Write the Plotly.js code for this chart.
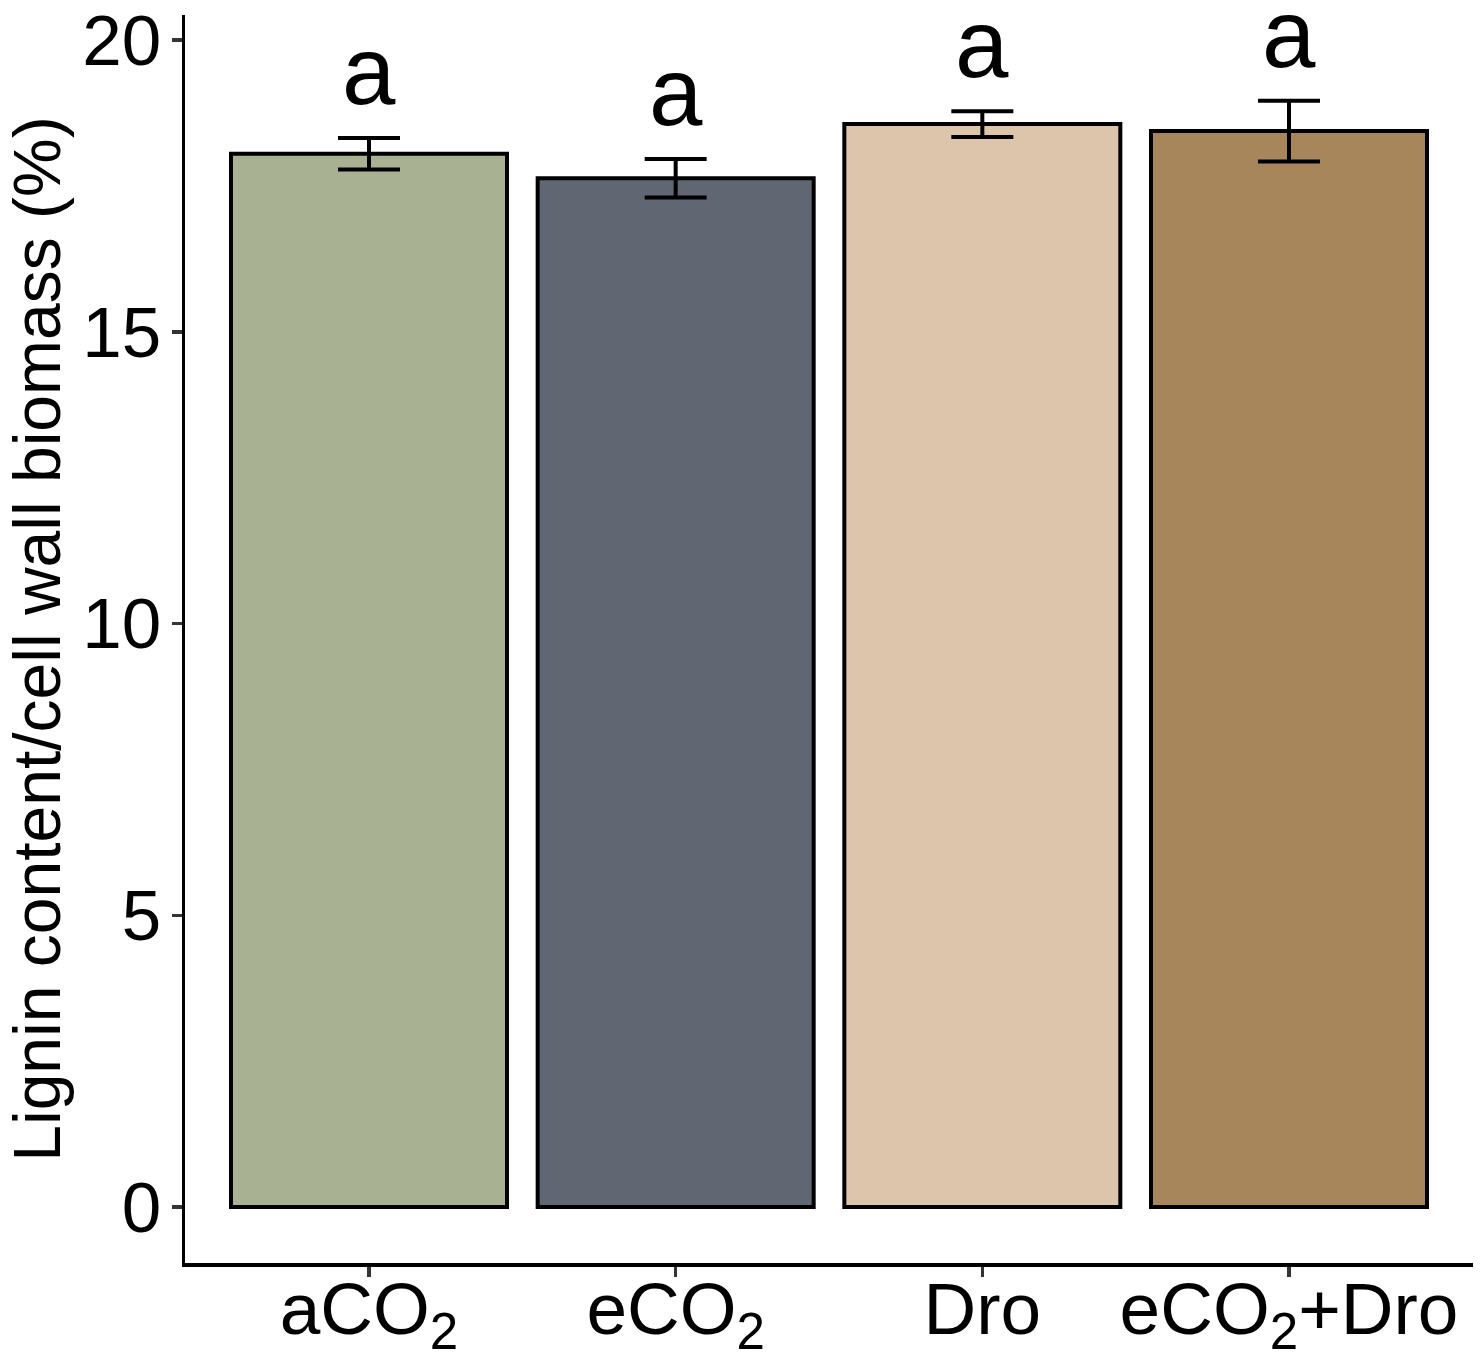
<!DOCTYPE html>
<html>
<head>
<meta charset="utf-8">
<script src="https://cdn.plot.ly/plotly-3.0.1.min.js"></script>
<style>
  html, body { margin: 0; padding: 0; background: #fff; }
  #chart { width: 1484px; height: 1364px; }
</style>
</head>
<body>
<div id="chart"></div>
<script>
// treatments and lignin values (mean ± se)
const treatments = ['aCO<sub>2</sub>', 'eCO<sub>2</sub>', 'Dro', 'eCO<sub>2</sub>+Dro'];
const ligninMean = [18.05, 17.63, 18.56, 18.44];
const ligninSe = [0.27, 0.33, 0.22, 0.52];
const letters = ['a', 'a', 'a', 'a'];
const barColors = ['#A8B293', '#606672', '#DDC5AB', '#A8865C'];

const xIdx = treatments.map((t, i) => i);

const bars = {
    x: xIdx,
    y: ligninMean,
    type: 'bar',
    width: 0.9,
    marker: { color: barColors, line: { color: '#000000', width: 4 } },
    error_y: {
        type: 'data',
        array: ligninSe,
        visible: true,
        color: '#000000',
        thickness: 4,
        width: 31
    },
    hoverinfo: 'skip'
};

// significance letters sit above the error bars
const letterNotes = letters.map((l, i) => ({
    x: i,
    y: ligninMean[i] + ligninSe[i],
    xref: 'x',
    yref: 'y',
    text: l,
    showarrow: false,
    yanchor: 'bottom',
    yshift: 12,
    font: { family: 'Liberation Sans, Arial, sans-serif', size: 96, color: '#000000' }
}));

const layout = {
    width: 1484,
    height: 1364,
    margin: { l: 185, r: 11, t: 15, b: 101 },
    paper_bgcolor: '#ffffff',
    plot_bgcolor: '#ffffff',
    showlegend: false,
    font: { family: 'Liberation Sans, Arial, sans-serif', color: '#000000' },
    xaxis: {
        range: [-0.6, 3.6],
        tickmode: 'array',
        tickvals: xIdx,
        ticktext: treatments,
        ticks: 'outside',
        ticklen: 10,
        tickwidth: 3.5,
        tickcolor: '#333333',
        tickfont: { size: 73, color: '#000000' },
        ticklabelstandoff: -30,
        showline: true,
        linecolor: '#000000',
        linewidth: 3.5,
        showgrid: false,
        zeroline: false,
        fixedrange: true
    },
    yaxis: {
        range: [-0.96, 20.43],
        tickmode: 'array',
        tickvals: [0, 5, 10, 15, 20],
        ticks: 'outside',
        ticklen: 10,
        tickwidth: 3.5,
        tickcolor: '#333333',
        tickfont: { size: 71, color: '#000000' },
        ticklabelstandoff: -4,
        showline: true,
        linecolor: '#000000',
        linewidth: 3.5,
        showgrid: false,
        zeroline: false,
        fixedrange: true,
        title: {
            text: 'Lignin content/cell wall biomass (%)',
            font: { size: 66, color: '#000000' },
            standoff: 12
        }
    },
    annotations: letterNotes
};

Plotly.newPlot('chart', [bars], layout, { displayModeBar: false, staticPlot: true });
</script>
</body>
</html>
